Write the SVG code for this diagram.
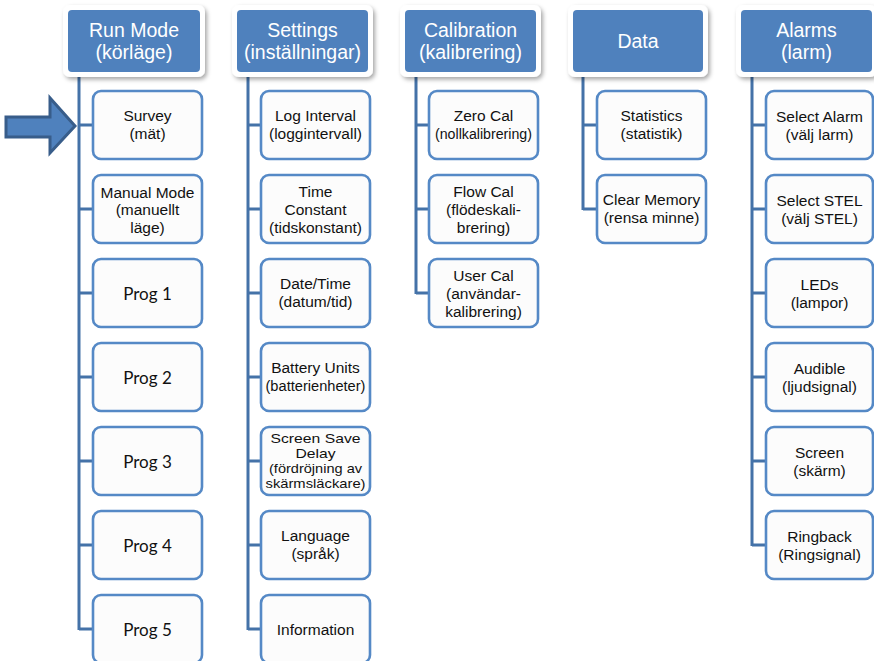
<svg xmlns="http://www.w3.org/2000/svg" width="874" height="661" viewBox="0 0 874 661">
<defs>
<filter id="sh" x="-10%" y="-20%" width="130%" height="150%">
<feDropShadow dx="2" dy="2.5" stdDeviation="2" flood-color="#000" flood-opacity="0.35"/>
</filter>
<style>
.hw{fill:#ffffff;filter:url(#sh)}
.hb{fill:#4F81BD}
.ht{fill:#ffffff;font-family:"Liberation Sans",Arial,sans-serif;font-size:19.5px;text-anchor:middle}
.cb{fill:#fcfcfc;stroke:#5589C6;stroke-width:2.6}
.ct{fill:#111;font-family:"Liberation Sans",Arial,sans-serif;font-size:15.5px;text-anchor:middle}
.st{fill:#111;font-family:"Liberation Sans",Arial,sans-serif;font-size:13.5px;text-anchor:middle}
.pt{fill:#111;font-family:Lato,"Open Sans",sans-serif;font-size:17px;text-anchor:middle}
.cn{stroke:#4472A8;stroke-width:3;fill:none}
</style>
</defs>
<rect width="874" height="661" fill="#ffffff"/>

<g id="connectors" class="cn">
<path d="M79 72V630M79 125H93M79 209H93M79 293H93M79 377H93M79 461H93M79 545H93M79 629H93"/>
<path d="M248 72V630M248 125H261M248 209H261M248 293H261M248 377H261M248 461H261M248 545H261M248 629H261"/>
<path d="M416 72V294M416 125H429M416 209H429M416 293H429"/>
<path d="M583 72V210M583 125H597M583 209H597"/>
<path d="M752 72V546M752 125H766M752 209H766M752 293H766M752 377H766M752 461H766M752 545H766"/>
</g>

<g id="arrow">
<polygon points="6,117 50,117 50,98 75,126 50,153 50,137 6,137" fill="#4F81BD" stroke="#385D8A" stroke-width="3" stroke-linejoin="miter"/>
</g>

<!-- headers -->
<g id="h-runmode"><rect class="hw" x="63" y="5" width="142" height="72" rx="7"/><rect class="hb" x="68" y="10" width="132" height="62" rx="4"/><text class="ht" x="134" y="37">Run Mode</text><text class="ht" x="134" y="59">(körläge)</text></g>
<g id="h-settings"><rect class="hw" x="232" y="5" width="141" height="72" rx="7"/><rect class="hb" x="237" y="10" width="131" height="62" rx="4"/><text class="ht" x="302.5" y="37">Settings</text><text class="ht" x="302.5" y="59">(inställningar)</text></g>
<g id="h-calibration"><rect class="hw" x="400" y="5" width="141" height="72" rx="7"/><rect class="hb" x="405" y="10" width="131" height="62" rx="4"/><text class="ht" x="470.5" y="37">Calibration</text><text class="ht" x="470.5" y="59">(kalibrering)</text></g>
<g id="h-data"><rect class="hw" x="568" y="5" width="140" height="72" rx="7"/><rect class="hb" x="573" y="10" width="130" height="62" rx="4"/><text class="ht" x="638" y="48">Data</text></g>
<g id="h-alarms"><rect class="hw" x="736" y="5" width="141" height="72" rx="7"/><rect class="hb" x="741" y="10" width="131" height="62" rx="4"/><text class="ht" x="806.5" y="37">Alarms</text><text class="ht" x="806.5" y="59">(larm)</text></g>

<!-- Run Mode children -->
<g id="survey"><rect class="cb" x="93" y="91" width="109" height="68" rx="8"/><text class="ct" x="147.5" y="121">Survey</text><text class="ct" x="147.5" y="139">(mät)</text></g>
<g id="manual"><rect class="cb" x="93" y="175" width="109" height="68" rx="8"/><text class="ct" x="147.5" y="198">Manual Mode</text><text class="ct" x="147.5" y="215">(manuellt</text><text class="ct" x="147.5" y="233">läge)</text></g>
<g id="prog1"><rect class="cb" x="93" y="259" width="109" height="68" rx="8"/><text class="pt" x="147.5" y="300">Prog 1</text></g>
<g id="prog2"><rect class="cb" x="93" y="343" width="109" height="68" rx="8"/><text class="pt" x="147.5" y="384">Prog 2</text></g>
<g id="prog3"><rect class="cb" x="93" y="427" width="109" height="68" rx="8"/><text class="pt" x="147.5" y="468">Prog 3</text></g>
<g id="prog4"><rect class="cb" x="93" y="511" width="109" height="68" rx="8"/><text class="pt" x="147.5" y="552">Prog 4</text></g>
<g id="prog5"><rect class="cb" x="93" y="595" width="109" height="68" rx="8"/><text class="pt" x="147.5" y="636">Prog 5</text></g>

<!-- Settings children -->
<g id="loginterval"><rect class="cb" x="261" y="91" width="109" height="68" rx="8"/><text class="ct" x="315.5" y="121">Log Interval</text><text class="ct" x="315.5" y="139">(loggintervall)</text></g>
<g id="timeconstant"><rect class="cb" x="261" y="175" width="109" height="68" rx="8"/><text class="ct" x="315.5" y="197">Time</text><text class="ct" x="315.5" y="215">Constant</text><text class="ct" x="315.5" y="233">(tidskonstant)</text></g>
<g id="datetime"><rect class="cb" x="261" y="259" width="109" height="68" rx="8"/><text class="ct" x="315.5" y="289">Date/Time</text><text class="ct" x="315.5" y="307">(datum/tid)</text></g>
<g id="battery"><rect class="cb" x="261" y="343" width="109" height="68" rx="8"/><text class="ct" x="315.5" y="373">Battery Units</text><text class="ct" x="315.5" y="391" textLength="100" lengthAdjust="spacingAndGlyphs">(batterienheter)</text></g>
<g id="screensave"><rect class="cb" x="261" y="427" width="109" height="68" rx="8"/><text class="st" x="315.5" y="443" textLength="90" lengthAdjust="spacingAndGlyphs">Screen Save</text><text class="st" x="315.5" y="458" textLength="40" lengthAdjust="spacingAndGlyphs">Delay</text><text class="st" x="315.5" y="473" textLength="93" lengthAdjust="spacingAndGlyphs">(fördröjning av</text><text class="st" x="315.5" y="488" textLength="100" lengthAdjust="spacingAndGlyphs">skärmsläckare)</text></g>
<g id="language"><rect class="cb" x="261" y="511" width="109" height="68" rx="8"/><text class="ct" x="315.5" y="541">Language</text><text class="ct" x="315.5" y="559">(språk)</text></g>
<g id="information"><rect class="cb" x="261" y="595" width="109" height="68" rx="8"/><text class="ct" x="315.5" y="635">Information</text></g>

<!-- Calibration children -->
<g id="zerocal"><rect class="cb" x="429" y="91" width="109" height="68" rx="8"/><text class="ct" x="483.5" y="121">Zero Cal</text><text class="ct" x="483.5" y="139" textLength="97" lengthAdjust="spacingAndGlyphs">(nollkalibrering)</text></g>
<g id="flowcal"><rect class="cb" x="429" y="175" width="109" height="68" rx="8"/><text class="ct" x="483.5" y="197">Flow Cal</text><text class="ct" x="483.5" y="215">(flödeskali-</text><text class="ct" x="483.5" y="233">brering)</text></g>
<g id="usercal"><rect class="cb" x="429" y="259" width="109" height="68" rx="8"/><text class="ct" x="483.5" y="281">User Cal</text><text class="ct" x="483.5" y="299">(användar-</text><text class="ct" x="483.5" y="317">kalibrering)</text></g>

<!-- Data children -->
<g id="statistics"><rect class="cb" x="597" y="91" width="109" height="68" rx="8"/><text class="ct" x="651.5" y="121">Statistics</text><text class="ct" x="651.5" y="139">(statistik)</text></g>
<g id="clearmemory"><rect class="cb" x="597" y="175" width="109" height="68" rx="8"/><text class="ct" x="651.5" y="205">Clear Memory</text><text class="ct" x="651.5" y="223">(rensa minne)</text></g>

<!-- Alarms children -->
<g id="selectalarm"><rect class="cb" x="766" y="91" width="107" height="68" rx="8"/><text class="ct" x="819.5" y="122">Select Alarm</text><text class="ct" x="819.5" y="140">(välj larm)</text></g>
<g id="selectstel"><rect class="cb" x="766" y="175" width="107" height="68" rx="8"/><text class="ct" x="819.5" y="206">Select STEL</text><text class="ct" x="819.5" y="224">(välj STEL)</text></g>
<g id="leds"><rect class="cb" x="766" y="259" width="107" height="68" rx="8"/><text class="ct" x="819.5" y="290">LEDs</text><text class="ct" x="819.5" y="308">(lampor)</text></g>
<g id="audible"><rect class="cb" x="766" y="343" width="107" height="68" rx="8"/><text class="ct" x="819.5" y="374">Audible</text><text class="ct" x="819.5" y="392">(ljudsignal)</text></g>
<g id="screen"><rect class="cb" x="766" y="427" width="107" height="68" rx="8"/><text class="ct" x="819.5" y="458">Screen</text><text class="ct" x="819.5" y="476">(skärm)</text></g>
<g id="ringback"><rect class="cb" x="766" y="511" width="107" height="68" rx="8"/><text class="ct" x="819.5" y="542">Ringback</text><text class="ct" x="819.5" y="560">(Ringsignal)</text></g>
</svg>
